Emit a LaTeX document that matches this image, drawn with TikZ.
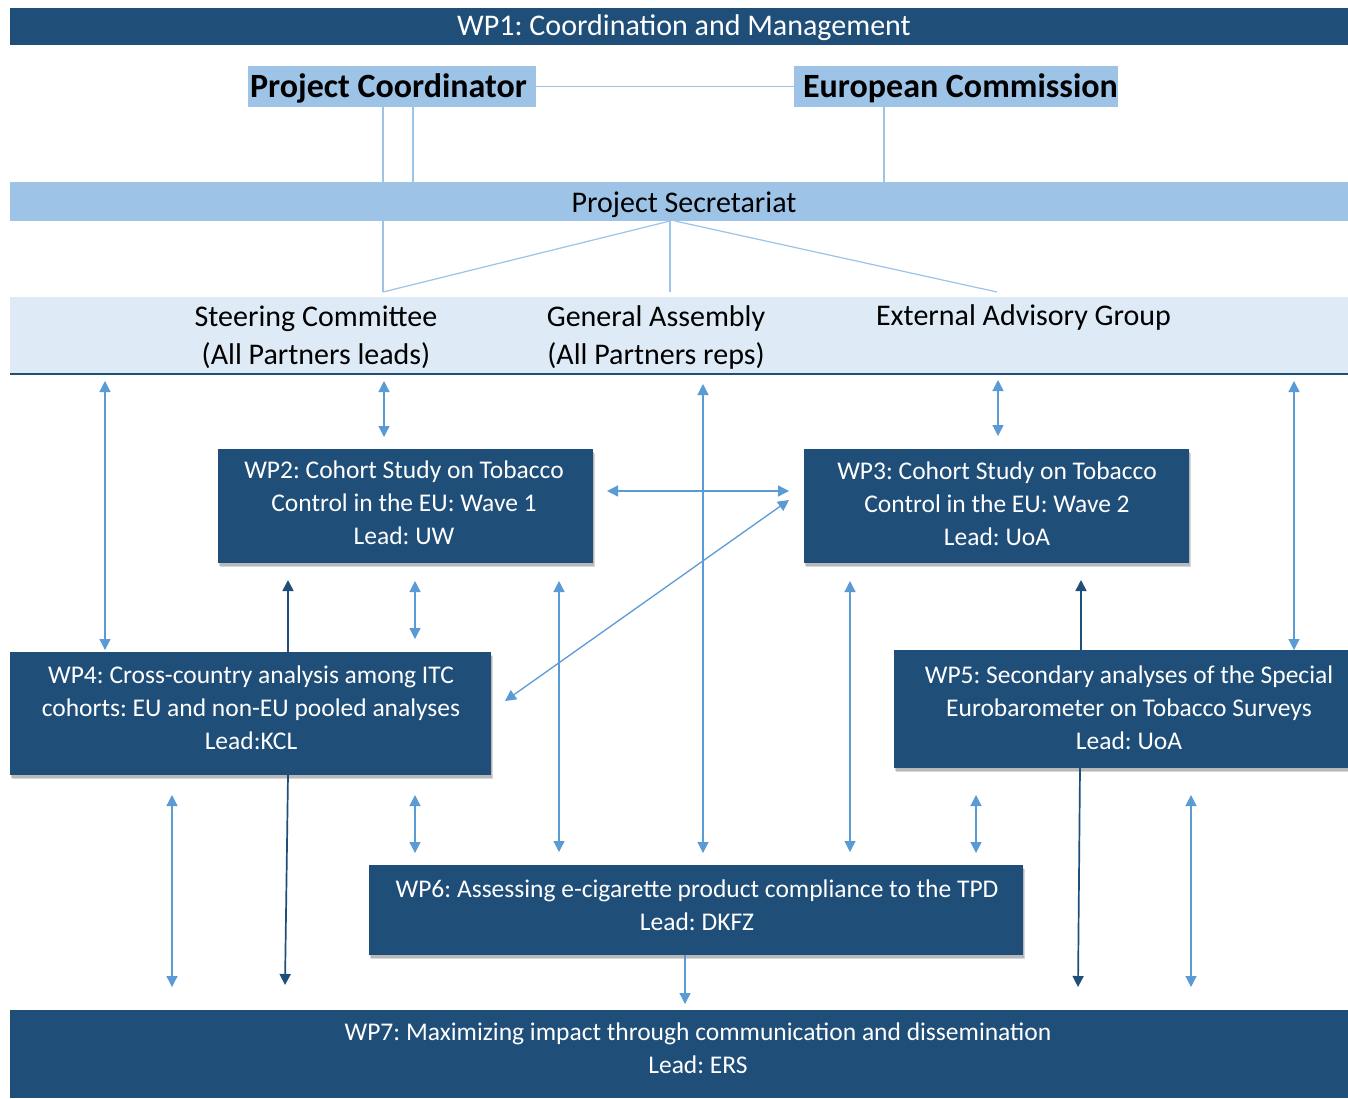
\documentclass[tikz,border=0pt]{standalone}
\usepackage{fontspec}
\setmainfont{Carlito}
\usetikzlibrary{arrows.meta,shadows}
\definecolor{dkblue}{RGB}{31,78,121}
\definecolor{midblue}{RGB}{157,195,230}
\definecolor{ltblue}{RGB}{222,235,247}
\definecolor{arrblue}{RGB}{91,155,213}
\definecolor{linblue}{RGB}{157,195,230}
\newcommand\wpfont{\fontsize{25.5}{33}\selectfont}
\frenchspacing
\begin{document}
\begin{tikzpicture}[x=1pt,y=-1pt,
  wpbox/.style={fill=dkblue,draw=none,inner sep=0pt,
     drop shadow={shadow xshift=2pt,shadow yshift=-4pt,opacity=0.3},
     drop shadow={shadow xshift=1pt,shadow yshift=-2.5pt,opacity=0.35}},
  wptext/.style={text=white,align=center,inner sep=0pt,font=\wpfont},
  lbtext/.style={text=black,align=center,inner sep=0pt,font=\fontsize{30}{38}\selectfont},
  conn/.style={draw=linblue,line width=1.2pt},
  dbl/.style={draw=arrblue,line width=1.3pt,{Triangle[length=11pt,width=11pt]}-{Triangle[length=11pt,width=11pt]}},
  sgl/.style={draw=arrblue,line width=1.3pt,-{Triangle[length=11pt,width=11pt]}},
  drk/.style={draw=dkblue,line width=1.7pt,-{Triangle[length=11pt,width=11pt]}}]
\useasboundingbox[fill=white] (0,0) rectangle (1348,1098);

% WP1 bar
\node[fill=dkblue,inner sep=0pt,minimum width=1338pt,minimum height=37pt] (wp1) at (679,26.5) {};
\node[text=white,inner sep=0pt,font=\fontsize{30}{34}\selectfont] (wp1t) at (684,27.5) {WP1: Coordination and Management};

% top boxes
\node[fill=midblue,inner sep=0pt,minimum width=288pt,minimum height=41pt] (pc) at (392,86.5) {};
\node[inner sep=0pt,font=\bfseries\fontsize{34}{38}\selectfont] (pct) at (388.5,88) {Project Coordinator};
\node[fill=midblue,inner sep=0pt,minimum width=324pt,minimum height=41pt] (ec) at (956,86.5) {};
\node[inner sep=0pt,font=\bfseries\fontsize{34}{38}\selectfont] (ect) at (960.5,88) {European Commission};

% secretariat
\node[fill=midblue,inner sep=0pt,minimum width=1338pt,minimum height=39pt] (sec) at (679,201.5) {};
\node[inner sep=0pt,font=\fontsize{30}{34}\selectfont] (sect) at (684,204.5) {Project Secretariat};

% connectors top
\draw[conn] (pc.east) -- (ec.west);
\coordinate (pcA) at (383,107);
\coordinate (pcB) at (413,107);
\coordinate (ecA) at (884,107);
\draw[conn] (pcA) -- (pcA |- sec.north);
\draw[conn] (pcB) -- (pcB |- sec.north);
\draw[conn] (ecA) -- (ecA |- sec.north);

% band
\node[fill=ltblue,inner sep=0pt,minimum width=1338pt,minimum height=77pt] (band) at (679,335.5) {};
\draw[dkblue,line width=2.2pt] (band.south west) -- (band.south east);
\node[lbtext] (sc) at (316,337) {Steering Committee\\(All Partners leads)};
\node[lbtext] (ga) at (656,337) {General Assembly\\(All Partners reps)};
\node[lbtext] (eag) at (1023.5,317.75) {External Advisory Group};

\coordinate (s1) at (383,292);
\coordinate (s2) at (670,292);
\coordinate (s3) at (997,292);
\coordinate (sa) at (670,221);
\coordinate (sb) at (675,221);
\draw[conn] (s1 |- sec.south) -- (s1);
\draw[conn] (sa) -- (s1);
\draw[conn] (sa) -- (s2);
\draw[conn] (sb) -- (s3);

% WP boxes
\node[wpbox,minimum width=375pt,minimum height=114pt] (wp2) at (405.5,506) {};
\node[wptext] (wp2t) at (404,503) {WP2: Cohort Study on Tobacco\\Control in the EU: Wave 1\\Lead: UW};
\node[wpbox,minimum width=385pt,minimum height=114pt] (wp3) at (996.5,506) {};
\node[wptext] (wp3t) at (997,503.5) {WP3: Cohort Study on Tobacco\\Control in the EU: Wave 2\\Lead: UoA};
\node[wpbox,minimum width=481pt,minimum height=123pt] (wp4) at (250.5,713.5) {};
\node[wptext] (wp4t) at (251,707.8) {WP4: Cross-country analysis among ITC\\cohorts: EU and non-EU pooled analyses\\Lead:KCL};
\node[wpbox,minimum width=454pt,minimum height=118pt] (wp5) at (1121,709) {};
\node[wptext] (wp5t) at (1129,707.8) {WP5: Secondary analyses of the Special\\Eurobarometer on Tobacco Surveys\\Lead: UoA};
\node[wpbox,minimum width=654pt,minimum height=90pt] (wp6) at (696,910) {};
\node[wptext] (wp6t) at (697,904.8) {WP6: Assessing e-cigarette product compliance to the TPD\\Lead: DKFZ};
\node[fill=dkblue,inner sep=0pt,minimum width=1338pt,minimum height=88pt] (wp7) at (679,1054) {};
\node[wptext] (wp7t) at (698,1048.5) {WP7: Maximizing impact through communication and dissemination\\Lead: ERS};

% arrows band -> row 2
\coordinate (a1t) at (105,381); \coordinate (a1b) at (105,650);
\draw[dbl] (a1t) -- (a1b);
\coordinate (a2t) at (384,381); \coordinate (a2b) at (384,437);
\draw[dbl] (a2t) -- (a2b);
\coordinate (a3t) at (703,384); \coordinate (a3b) at (703,853);
\draw[dbl] (a3t) -- (a3b);
\coordinate (a4t) at (998,380); \coordinate (a4b) at (998,436);
\draw[dbl] (a4t) -- (a4b);
\coordinate (a5t) at (1294,381); \coordinate (a5b) at (1294,650);
\draw[dbl] (a5t) -- (a5b);

% WP2 <-> WP3
\coordinate (h1) at (607,491); \coordinate (h2) at (789,491);
\draw[dbl] (h1) -- (h2);
% WP4 <-> WP3 diagonal
\coordinate (g1) at (505,701); \coordinate (g2) at (789,500);
\draw[dbl] (g1) -- (g2);

% middle row arrows
\coordinate (d1) at (288,580);
\draw[drk] (d1 |- wp4.north) -- (d1);
\coordinate (m1t) at (415,581); \coordinate (m1b) at (415,639);
\draw[dbl] (m1t) -- (m1b);
\coordinate (m2t) at (559,581); \coordinate (m2b) at (559,852);
\draw[dbl] (m2t) -- (m2b);
\coordinate (m3t) at (850,581); \coordinate (m3b) at (850,852);
\draw[dbl] (m3t) -- (m3b);
\coordinate (d2) at (1081,580);
\draw[drk] (d2 |- wp5.north) -- (d2);

% lower arrows
\coordinate (l1t) at (172,795); \coordinate (l1b) at (172,987);
\draw[dbl] (l1t) -- (l1b);
\coordinate (d3s) at (288,775); \coordinate (d3) at (285,985);
\draw[drk] (d3s) -- (d3);
\coordinate (l2t) at (415,795); \coordinate (l2b) at (415,853);
\draw[dbl] (l2t) -- (l2b);
\coordinate (l3t) at (976,795); \coordinate (l3b) at (976,853);
\draw[dbl] (l3t) -- (l3b);
\coordinate (d4s) at (1080,768); \coordinate (d4) at (1078,987);
\draw[drk] (d4s) -- (d4);
\coordinate (l4t) at (1191,795); \coordinate (l4b) at (1191,987);
\draw[dbl] (l4t) -- (l4b);
\coordinate (w7) at (685,1004);
\draw[sgl] (wp6.south -| w7) -- (w7);
\end{tikzpicture}
\end{document}
